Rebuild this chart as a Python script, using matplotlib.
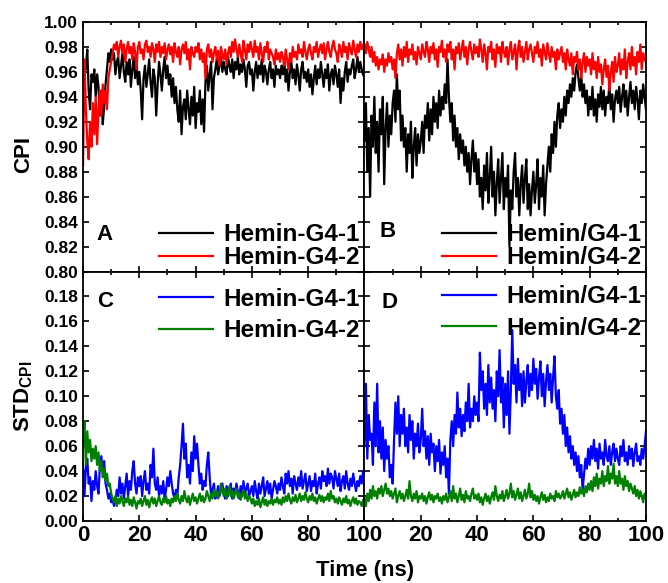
import numpy as np
import matplotlib
matplotlib.use("Agg")
import matplotlib.pyplot as plt
from matplotlib.ticker import MultipleLocator

plt.rcParams['font.family'] = ['Liberation Sans', 'DejaVu Sans']
plt.rcParams['font.weight'] = 'bold'
plt.rcParams['mathtext.fontset'] = 'custom'
plt.rcParams['mathtext.bf'] = 'Liberation Sans:bold'
plt.rcParams['mathtext.rm'] = 'Liberation Sans:bold'

time_ns = np.linspace(0, 100, 201)

cpi_a1 = [
0.955,0.968,0.962,0.978,0.945,0.930,0.958,0.952,0.962,0.940,0.958,0.948,0.925,0.945,0.918,0.932,0.950,0.962,0.975,0.968,
0.978,0.970,0.975,0.958,0.968,0.972,0.955,0.965,0.975,0.960,0.952,0.968,0.958,0.970,0.948,0.962,0.972,0.955,0.968,0.950,
0.960,0.945,0.922,0.955,0.965,0.948,0.958,0.970,0.952,0.940,0.962,0.955,0.925,0.950,0.968,0.958,0.945,0.962,0.972,0.955,
0.965,0.950,0.958,0.940,0.955,0.935,0.948,0.930,0.920,0.945,0.910,0.932,0.938,0.922,0.945,0.930,0.918,0.940,0.925,0.948,
0.915,0.935,0.928,0.945,0.918,0.938,0.912,0.952,0.965,0.945,0.958,0.968,0.930,0.955,0.962,0.970,0.958,0.965,0.972,0.960,
0.968,0.962,0.958,0.972,0.965,0.960,0.970,0.955,0.968,0.962,0.972,0.958,0.966,0.960,0.970,0.962,0.948,0.965,0.968,0.958,
0.962,0.945,0.960,0.968,0.955,0.965,0.958,0.970,0.952,0.965,0.960,0.950,0.962,0.968,0.955,0.962,0.948,0.965,0.958,0.962,
0.955,0.965,0.958,0.970,0.952,0.962,0.945,0.960,0.968,0.955,0.962,0.950,0.966,0.958,0.945,0.962,0.968,0.955,0.960,0.952,
0.962,0.948,0.958,0.942,0.955,0.965,0.950,0.962,0.955,0.968,0.958,0.948,0.962,0.955,0.966,0.945,0.958,0.962,0.950,0.965,
0.958,0.948,0.962,0.935,0.955,0.945,0.960,0.968,0.952,0.962,0.958,0.965,0.970,0.955,0.962,0.972,0.960,0.968,0.962,0.958,
0.955]

cpi_a2 = [
0.885,0.970,0.930,0.905,0.890,0.920,0.900,0.935,0.910,0.940,0.902,0.930,0.945,0.925,0.950,0.935,0.945,0.930,0.955,0.962,
0.968,0.975,0.982,0.978,0.984,0.972,0.980,0.985,0.975,0.982,0.968,0.978,0.984,0.975,0.980,0.970,0.983,0.976,0.962,0.980,
0.984,0.975,0.978,0.970,0.982,0.985,0.976,0.980,0.972,0.983,0.978,0.968,0.982,0.976,0.984,0.972,0.980,0.975,0.983,0.970,
0.978,0.982,0.974,0.980,0.968,0.983,0.976,0.972,0.980,0.966,0.978,0.982,0.975,0.984,0.970,0.978,0.962,0.980,0.975,0.972,
0.980,0.976,0.983,0.970,0.978,0.968,0.975,0.955,0.978,0.982,0.972,0.978,0.968,0.975,0.980,0.970,0.977,0.965,0.980,0.974,
0.970,0.978,0.966,0.975,0.980,0.972,0.984,0.976,0.986,0.978,0.972,0.982,0.975,0.968,0.985,0.978,0.970,0.982,0.976,0.984,
0.978,0.972,0.985,0.976,0.980,0.970,0.983,0.975,0.968,0.980,0.976,0.984,0.970,0.978,0.975,0.972,0.966,0.978,0.970,0.975,
0.968,0.976,0.972,0.965,0.978,0.970,0.962,0.975,0.968,0.980,0.972,0.976,0.970,0.982,0.975,0.978,0.972,0.984,0.976,0.970,
0.978,0.982,0.975,0.970,0.980,0.976,0.984,0.972,0.978,0.982,0.975,0.983,0.970,0.978,0.984,0.976,0.972,0.980,0.985,0.978,
0.975,0.968,0.982,0.978,0.972,0.984,0.976,0.980,0.970,0.983,0.978,0.974,0.985,0.978,0.972,0.982,0.976,0.984,0.978,0.982,
0.980]

cpi_b1 = [
0.905,0.935,0.880,0.915,0.860,0.925,0.900,0.940,0.895,0.920,0.880,0.930,0.910,0.940,0.870,0.915,0.935,0.900,0.925,0.910,
0.935,0.945,0.920,0.958,0.930,0.945,0.905,0.925,0.900,0.915,0.880,0.910,0.895,0.920,0.875,0.900,0.915,0.885,0.910,0.895,
0.905,0.920,0.895,0.925,0.915,0.935,0.905,0.930,0.910,0.940,0.920,0.935,0.915,0.945,0.925,0.940,0.930,0.950,0.935,0.970,
0.940,0.920,0.935,0.905,0.925,0.900,0.915,0.890,0.910,0.895,0.905,0.885,0.900,0.880,0.895,0.870,0.890,0.905,0.880,0.895,
0.870,0.890,0.860,0.875,0.850,0.885,0.865,0.895,0.855,0.875,0.900,0.860,0.880,0.845,0.870,0.890,0.855,0.875,0.895,0.850,
0.875,0.860,0.885,0.820,0.865,0.850,0.880,0.895,0.860,0.875,0.845,0.870,0.885,0.855,0.875,0.890,0.850,0.870,0.845,0.865,
0.880,0.855,0.870,0.890,0.850,0.875,0.860,0.885,0.845,0.870,0.885,0.900,0.880,0.910,0.895,0.920,0.900,0.925,0.935,0.915,
0.930,0.920,0.940,0.925,0.945,0.935,0.950,0.940,0.955,0.945,0.960,0.966,0.955,0.945,0.958,0.940,0.950,0.935,0.945,0.925,
0.940,0.930,0.948,0.925,0.938,0.920,0.942,0.932,0.948,0.930,0.945,0.925,0.940,0.935,0.950,0.930,0.942,0.920,0.938,0.945,
0.935,0.948,0.928,0.940,0.950,0.932,0.945,0.925,0.940,0.952,0.935,0.945,0.930,0.948,0.938,0.922,0.945,0.935,0.950,0.940,
0.930]

cpi_b2 = [
0.982,0.975,0.984,0.978,0.972,0.980,0.968,0.976,0.965,0.972,0.962,0.970,0.966,0.974,0.960,0.970,0.965,0.975,0.968,0.972,
0.962,0.970,0.955,0.975,0.982,0.970,0.978,0.965,0.980,0.972,0.984,0.968,0.978,0.974,0.982,0.970,0.976,0.966,0.980,0.975,
0.970,0.982,0.976,0.972,0.984,0.978,0.968,0.980,0.975,0.983,0.970,0.978,0.964,0.980,0.976,0.985,0.972,0.978,0.968,0.982,
0.976,0.984,0.970,0.978,0.962,0.980,0.975,0.983,0.970,0.978,0.985,0.972,0.980,0.966,0.978,0.984,0.976,0.970,0.982,0.975,
0.980,0.972,0.986,0.978,0.968,0.982,0.975,0.962,0.980,0.976,0.984,0.970,0.978,0.964,0.982,0.975,0.980,0.968,0.984,0.976,
0.972,0.980,0.966,0.978,0.984,0.970,0.976,0.982,0.962,0.978,0.985,0.972,0.980,0.968,0.976,0.984,0.970,0.978,0.982,0.975,
0.968,0.980,0.975,0.984,0.972,0.978,0.965,0.982,0.976,0.970,0.983,0.975,0.968,0.980,0.972,0.976,0.962,0.978,0.970,0.975,
0.980,0.968,0.975,0.962,0.978,0.970,0.965,0.975,0.958,0.972,0.968,0.976,0.962,0.970,0.955,0.968,0.975,0.960,0.972,0.965,
0.970,0.958,0.975,0.962,0.968,0.955,0.972,0.960,0.966,0.950,0.962,0.970,0.956,0.965,0.945,0.960,0.968,0.952,0.972,0.960,
0.965,0.975,0.958,0.970,0.962,0.978,0.955,0.968,0.975,0.962,0.980,0.965,0.972,0.958,0.976,0.968,0.982,0.962,0.975,0.970,
0.968]

std_c1 = [
0.045,0.020,0.042,0.050,0.030,0.035,0.016,0.032,0.025,0.040,0.028,0.022,0.045,0.052,0.040,0.048,0.030,0.025,0.018,0.022,
0.015,0.018,0.012,0.016,0.025,0.020,0.035,0.022,0.030,0.018,0.028,0.038,0.020,0.032,0.025,0.040,0.048,0.030,0.022,0.035,
0.028,0.036,0.020,0.032,0.040,0.025,0.030,0.022,0.045,0.035,0.058,0.030,0.025,0.035,0.020,0.028,0.022,0.032,0.018,0.025,
0.035,0.028,0.040,0.030,0.022,0.018,0.025,0.020,0.035,0.045,0.060,0.078,0.050,0.062,0.035,0.045,0.030,0.055,0.040,0.068,
0.050,0.062,0.045,0.030,0.038,0.025,0.032,0.028,0.045,0.055,0.035,0.020,0.025,0.030,0.018,0.022,0.028,0.020,0.025,0.030,
0.022,0.018,0.028,0.020,0.025,0.030,0.018,0.026,0.022,0.030,0.024,0.018,0.028,0.020,0.032,0.022,0.026,0.030,0.020,0.024,
0.028,0.020,0.032,0.024,0.018,0.030,0.022,0.028,0.035,0.020,0.026,0.032,0.022,0.030,0.018,0.025,0.032,0.028,0.022,0.030,
0.025,0.035,0.028,0.022,0.038,0.030,0.040,0.028,0.034,0.022,0.036,0.030,0.025,0.035,0.028,0.040,0.026,0.032,0.038,0.024,
0.030,0.036,0.024,0.032,0.028,0.038,0.022,0.030,0.035,0.026,0.040,0.032,0.036,0.028,0.042,0.030,0.038,0.035,0.026,0.040,
0.034,0.028,0.038,0.024,0.032,0.036,0.026,0.040,0.030,0.025,0.034,0.028,0.038,0.030,0.024,0.032,0.028,0.036,0.030,0.040,
0.038]

std_c2 = [
0.060,0.080,0.045,0.072,0.055,0.065,0.048,0.058,0.050,0.060,0.045,0.055,0.040,0.048,0.035,0.042,0.032,0.038,0.028,0.030,
0.022,0.018,0.015,0.020,0.012,0.018,0.014,0.020,0.016,0.012,0.018,0.015,0.020,0.013,0.017,0.012,0.019,0.015,0.010,0.016,
0.014,0.018,0.012,0.016,0.020,0.013,0.017,0.011,0.016,0.019,0.014,0.018,0.012,0.016,0.020,0.015,0.013,0.018,0.015,0.020,
0.014,0.017,0.012,0.018,0.015,0.020,0.016,0.022,0.017,0.014,0.020,0.016,0.024,0.018,0.015,0.020,0.013,0.018,0.022,0.016,
0.019,0.014,0.018,0.022,0.016,0.020,0.015,0.018,0.024,0.020,0.016,0.022,0.018,0.025,0.020,0.024,0.018,0.022,0.030,0.024,
0.020,0.026,0.018,0.022,0.028,0.020,0.024,0.018,0.022,0.026,0.019,0.023,0.017,0.021,0.025,0.018,0.022,0.016,0.020,0.018,
0.014,0.018,0.012,0.016,0.013,0.018,0.011,0.015,0.019,0.013,0.017,0.012,0.016,0.014,0.018,0.013,0.017,0.015,0.019,0.014,
0.017,0.013,0.019,0.015,0.020,0.016,0.022,0.017,0.014,0.019,0.016,0.021,0.015,0.018,0.022,0.016,0.020,0.017,0.023,0.018,
0.015,0.020,0.017,0.022,0.016,0.019,0.014,0.018,0.021,0.016,0.020,0.015,0.019,0.017,0.022,0.016,0.024,0.018,0.020,0.015,
0.018,0.014,0.019,0.016,0.013,0.018,0.015,0.020,0.014,0.017,0.012,0.016,0.019,0.014,0.018,0.013,0.016,0.015,0.012,0.017,
0.014]

std_d1 = [
0.060,0.110,0.050,0.085,0.065,0.070,0.045,0.095,0.060,0.110,0.055,0.080,0.050,0.075,0.040,0.065,0.050,0.060,0.035,0.045,
0.030,0.065,0.095,0.070,0.100,0.060,0.085,0.070,0.090,0.060,0.075,0.055,0.085,0.065,0.080,0.050,0.070,0.060,0.078,0.055,
0.065,0.090,0.060,0.072,0.050,0.068,0.045,0.070,0.055,0.062,0.040,0.060,0.048,0.065,0.038,0.055,0.045,0.060,0.035,0.050,
0.022,0.065,0.080,0.060,0.085,0.070,0.103,0.075,0.090,0.068,0.085,0.072,0.095,0.080,0.110,0.075,0.090,0.080,0.100,0.085,
0.095,0.080,0.135,0.105,0.120,0.090,0.110,0.085,0.125,0.095,0.115,0.090,0.105,0.080,0.120,0.100,0.137,0.095,0.115,0.075,
0.110,0.085,0.120,0.070,0.105,0.153,0.110,0.125,0.095,0.130,0.105,0.118,0.092,0.120,0.095,0.112,0.125,0.100,0.118,0.105,
0.130,0.110,0.122,0.098,0.115,0.128,0.100,0.118,0.092,0.112,0.125,0.105,0.118,0.095,0.115,0.132,0.100,0.090,0.105,0.078,
0.090,0.070,0.085,0.060,0.075,0.055,0.068,0.050,0.060,0.045,0.055,0.040,0.052,0.035,0.045,0.025,0.038,0.050,0.042,0.058,
0.045,0.060,0.050,0.065,0.048,0.058,0.042,0.062,0.050,0.055,0.045,0.065,0.052,0.048,0.060,0.045,0.055,0.062,0.048,0.058,
0.050,0.045,0.060,0.052,0.065,0.048,0.055,0.045,0.060,0.050,0.058,0.044,0.055,0.062,0.048,0.052,0.045,0.058,0.050,0.060,
0.072]

std_d2 = [
0.018,0.012,0.022,0.016,0.025,0.018,0.028,0.020,0.024,0.018,0.026,0.022,0.028,0.020,0.025,0.030,0.022,0.026,0.020,0.024,
0.018,0.022,0.026,0.015,0.020,0.024,0.018,0.022,0.016,0.020,0.025,0.018,0.032,0.020,0.016,0.022,0.018,0.024,0.015,0.020,
0.018,0.022,0.016,0.020,0.014,0.019,0.023,0.017,0.021,0.015,0.020,0.018,0.022,0.016,0.019,0.014,0.020,0.017,0.022,0.015,
0.019,0.024,0.016,0.028,0.018,0.022,0.015,0.020,0.026,0.017,0.021,0.015,0.024,0.018,0.020,0.016,0.022,0.026,0.018,0.021,
0.017,0.022,0.015,0.019,0.013,0.018,0.022,0.016,0.020,0.014,0.019,0.023,0.017,0.028,0.020,0.016,0.021,0.018,0.024,0.016,
0.020,0.025,0.018,0.022,0.030,0.019,0.024,0.017,0.021,0.026,0.018,0.023,0.016,0.020,0.025,0.018,0.022,0.030,0.019,0.024,
0.017,0.021,0.016,0.020,0.014,0.019,0.023,0.017,0.021,0.015,0.019,0.016,0.022,0.018,0.020,0.016,0.024,0.019,0.022,0.018,
0.020,0.024,0.018,0.022,0.026,0.019,0.023,0.017,0.021,0.025,0.019,0.023,0.020,0.027,0.022,0.025,0.020,0.028,0.023,0.030,
0.025,0.032,0.024,0.035,0.028,0.038,0.026,0.034,0.030,0.040,0.028,0.036,0.032,0.044,0.030,0.038,0.034,0.046,0.030,0.036,
0.028,0.040,0.030,0.034,0.025,0.036,0.028,0.032,0.024,0.030,0.026,0.022,0.028,0.020,0.025,0.018,0.024,0.020,0.015,0.022,
0.018]

labels_left = ["Hemin-G4-1", "Hemin-G4-2"]
labels_right = ["Hemin/G4-1", "Hemin/G4-2"]
panel_letters = ["A", "B", "C", "D"]

fig = plt.figure(figsize=(6.68, 5.83), dpi=100)
gs = fig.add_gridspec(2, 2, left=0.1243, right=0.967, top=0.9623, bottom=0.1063,
                      wspace=0, hspace=0)
axA = fig.add_subplot(gs[0, 0])
axB = fig.add_subplot(gs[0, 1])
axC = fig.add_subplot(gs[1, 0])
axD = fig.add_subplot(gs[1, 1])

lw = 1.6
axA.plot(time_ns, cpi_a1, color='black', lw=lw, label=labels_left[0])
axA.plot(time_ns, cpi_a2, color='red', lw=lw, label=labels_left[1])
axB.plot(time_ns, cpi_b1, color='black', lw=lw, label=labels_right[0])
axB.plot(time_ns, cpi_b2, color='red', lw=lw, label=labels_right[1])
axC.plot(time_ns, std_c1, color='#0000ff', lw=lw, label=labels_left[0])
axC.plot(time_ns, std_c2, color='#008000', lw=lw, label=labels_left[1])
axD.plot(time_ns, std_d1, color='#0000ff', lw=lw, label=labels_right[0])
axD.plot(time_ns, std_d2, color='#008000', lw=lw, label=labels_right[1])

for ax in (axA, axB, axC, axD):
    ax.set_xlim(0, 100)
    ax.xaxis.set_major_locator(MultipleLocator(20))
    ax.xaxis.set_minor_locator(MultipleLocator(10))
    ax.tick_params(which='both', direction='in', top=True, right=True,
                   width=1.2)
    ax.tick_params(which='major', length=4)
    ax.tick_params(which='minor', length=2.5)
    for s in ax.spines.values():
        s.set_linewidth(1.3)

for ax in (axA, axB):
    ax.set_ylim(0.80, 1.00)
    ax.yaxis.set_major_locator(MultipleLocator(0.02))
    ax.tick_params(labelbottom=False)
for ax in (axC, axD):
    ax.set_ylim(0.0, 0.2)
    ax.yaxis.set_major_locator(MultipleLocator(0.02))

aticks = np.arange(0.80, 1.001, 0.02)
axA.set_yticks(aticks)
axA.set_yticklabels([f"{v:.2f}" for v in aticks], fontsize=12.5, fontweight='bold')
cticks = np.arange(0.0, 0.2001, 0.02)
axC.set_yticks(cticks)
axC.set_yticklabels([f"{v:.2f}" if v < 0.19 else "" for v in cticks], fontsize=12.5, fontweight='bold')
for ax in (axB, axD):
    ax.tick_params(labelleft=False)

xt = [0, 20, 40, 60, 80, 100]
axC.set_xticks(xt)
axC.set_xticklabels([str(v) for v in xt], fontsize=16, fontweight='bold')
axD.set_xticks(xt)
axD.set_xticklabels([""] + [str(v) for v in xt[1:]], fontsize=16, fontweight='bold')
for ax in (axC, axD):
    ax.tick_params(axis='x', pad=3)

leg_kw = dict(frameon=False, handlelength=2.2, handletextpad=0.45,
              borderpad=0.0, borderaxespad=0.0,
              prop={'family': 'Liberation Sans', 'weight': 'bold', 'size': 17.5})
axA.legend(loc='lower right', bbox_to_anchor=(0.985, 0.01), labelspacing=0.0, **leg_kw)
axB.legend(loc='lower right', bbox_to_anchor=(0.985, 0.01), labelspacing=0.0, **leg_kw)
axC.legend(loc='upper right', bbox_to_anchor=(0.985, 0.935), labelspacing=0.35, **leg_kw)
axD.legend(loc='upper right', bbox_to_anchor=(0.985, 0.945), labelspacing=0.35, **leg_kw)

letter_pos = {axA: (0.078, 0.15), axB: (0.082, 0.16), axC: (0.078, 0.88), axD: (0.09, 0.875)}
for ax, letter in zip((axA, axB, axC, axD), panel_letters):
    x, y = letter_pos[ax]
    ax.text(x, y, letter, transform=ax.transAxes, ha='center', va='center',
            fontsize=16, fontweight='bold')

fig.text(0.035, 0.735, "CPI", rotation=90, ha='center', va='center',
         fontsize=16, fontweight='bold')
fig.text(0.035, 0.32, r"STD$_{\mathbf{CPI}}$", rotation=90, ha='center', va='center',
         fontsize=16, fontweight='bold')
fig.text(0.547, 0.022, "Time (ns)", ha='center', va='center',
         fontsize=16, fontweight='bold')

fig.savefig("out.png", dpi=100)
